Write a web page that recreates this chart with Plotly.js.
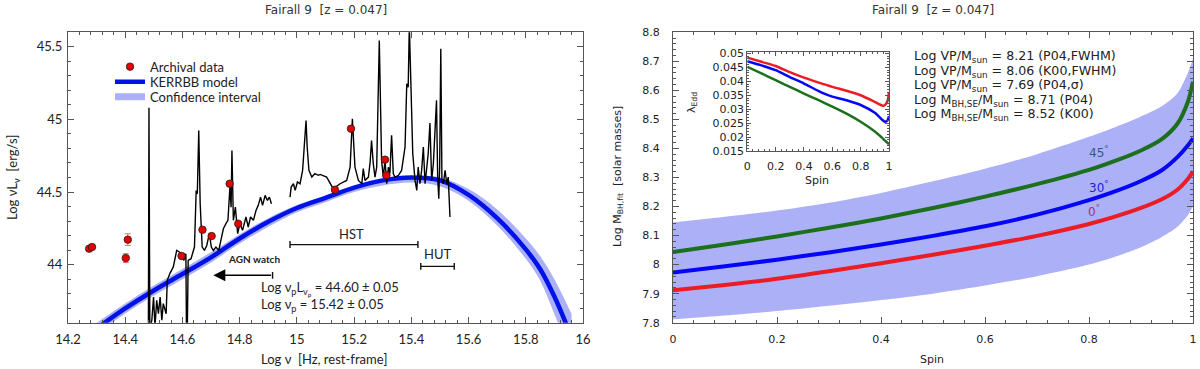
<!DOCTYPE html>
<html>
<head>
<meta charset="utf-8">
<script src="https://cdn.plot.ly/plotly-3.0.1.min.js"></script>
<style>
  html, body { margin: 0; padding: 0; background: #fff; }
  #chart { width: 1200px; height: 369px; }
</style>
</head>
<body>
<div id="chart"></div>
<script>
// ---------- left panel: SED ----------
const specX = [
  14.481, 14.483, 14.486, 14.493, 14.499, 14.504, 14.510, 14.516, 14.522, 14.528,
  14.533, 14.543, 14.547, 14.556, 14.568, 14.580, 14.589, 14.597, 14.605, 14.612,
  14.614, 14.617, 14.620, 14.630, 14.642, 14.648, 14.652, 14.657, 14.662, 14.669,
  14.677, 14.685, 14.694, 14.701, 14.708, 14.717, 14.727, 14.735, 14.743, 14.752,
  14.759, 14.766, 14.770, 14.773, 14.778, 14.785, 14.793, 14.801, 14.810, 14.822,
  14.830, 14.838, 14.848, 14.857, 14.865, 14.873, 14.880, 14.889, 14.897, 14.904,
  14.911, null,
  14.976, 14.980, 14.988, 14.994, 15.002, 15.011, 15.020, 15.026, 15.032, 15.036,
  15.042, 15.052, 15.063, 15.075, 15.081, 15.104, 15.127, 15.151, 15.162, 15.174,
  15.186, 15.194, 15.203, 15.215, 15.227, 15.232, 15.238, 15.250, 15.256, 15.261,
  15.267, 15.273, 15.279, 15.288, 15.296, 15.302, 15.308, 15.314, 15.320, 15.325,
  15.331, 15.337, 15.343, 15.355, 15.366, 15.378, 15.384, 15.389, 15.393, 15.398,
  15.405, 15.413, 15.419, 15.424, 15.430, 15.436, 15.442, 15.448, 15.454, 15.459,
  15.465, 15.471, 15.477, 15.488, 15.492, 15.496, 15.499, 15.503, 15.507, 15.512,
  15.518, 15.524, 15.529, 15.535
];
const specY = [
  43.55, 45.08, 43.55, 43.617, 43.777, 43.571, 43.754, 43.662, 43.777, 43.617,
  43.731, 43.662, 43.892, 43.938, 43.984, 44.098, 44.087, 44.075, 44.029, 44.075,
  43.55, 43.55, 44.029, 44.041, 44.121, 44.511, 44.488, 44.924, 44.419, 44.121,
  44.098, 44.132, 44.213, 44.121, 44.098, 44.121, 44.098, 44.167, 44.247, 44.282,
  44.305, 44.534, 44.396, 44.786, 44.305, 44.396, 44.213, 44.282, 44.236, 44.328,
  44.259, 44.328, 44.305, 44.373, 44.408, 44.465, 44.408, 44.477, 44.442, 44.465,
  44.419, null,
  44.465, 44.534, 44.557, 44.511, 44.569, 44.557, 44.649, 44.810, 44.993, 44.810,
  44.649, 44.603, 44.626, 44.615, 44.621, 44.603, 44.523, 44.557, 44.569, 44.580,
  44.672, 45.005, 44.672, 44.580, 44.557, 44.661, 44.580, 44.603, 44.706, 44.855,
  44.695, 44.603, 44.672, 45.544, 44.718, 44.603, 44.718, 44.557, 44.672, 44.626,
  44.890, 44.626, 44.603, 44.615, 44.649, 44.810, 45.246, 45.222, 45.65, 45.222,
  44.764, 44.580, 44.511, 44.672, 44.557, 44.649, 44.810, 44.557, 44.672, 44.764,
  44.975, 44.580, 44.695, 45.131, 44.603, 44.454, 44.672, 45.487, 44.580, 44.557,
  44.649, 44.557, 44.603, 44.328
];
const archX = [14.274, 14.284, 14.409, 14.402, 14.597, 14.670, 14.702, 14.765, 14.795, 15.133, 15.189, 15.308, 15.313];
const archY = [44.110, 44.121, 44.172, 44.045, 44.060, 44.240, 44.197, 44.557, 44.282, 44.516, 44.936, 44.723, 44.615];
const archErr = [0.012, 0.012, 0.04, 0.03, 0.01, 0.01, 0.01, 0.01, 0.01, 0.01, 0.01, 0.01, 0.01];

const modelX  = [14.30, 14.4, 14.5, 14.6, 14.7, 14.8, 14.9, 15.0, 15.1, 15.2, 15.3, 15.4, 15.5, 15.6, 15.7, 15.8, 15.85, 15.9, 15.96];
const modelY  = [43.56, 43.698, 43.822, 43.935, 44.05, 44.18, 44.295, 44.39, 44.46, 44.53, 44.58, 44.60, 44.58, 44.48, 44.32, 44.105, 43.97, 43.78, 43.50];
const modelHi = [43.60, 43.733, 43.857, 43.97, 44.085, 44.21, 44.32, 44.41, 44.475, 44.54, 44.59, 44.61, 44.60, 44.52, 44.38, 44.18, 44.06, 43.90, 43.66];
const modelLo = [43.52, 43.663, 43.787, 43.90, 44.015, 44.145, 44.26, 44.36, 44.43, 44.50, 44.545, 44.565, 44.54, 44.44, 44.27, 44.04, 43.89, 43.66, 43.36];

const hstRange = [14.976, 15.423];
const hstLevel = 44.138;
const hutRange = [15.433, 15.550];
const hutLevel = 43.988;
const agnWatch = [14.915, 14.708];
const agnLevel = 43.926;

// ---------- right panel: mass vs spin ----------
const spin    = [0, 0.1, 0.2, 0.3, 0.4, 0.5, 0.6, 0.7, 0.8, 0.85, 0.9, 0.94, 0.97, 0.99, 1.0];
const mass0   = [7.912, 7.930, 7.951, 7.977, 8.005, 8.034, 8.065, 8.099, 8.140, 8.165, 8.195, 8.225, 8.258, 8.295, 8.320];
const mass30  = [7.973, 7.994, 8.017, 8.042, 8.069, 8.099, 8.132, 8.172, 8.222, 8.252, 8.288, 8.325, 8.370, 8.410, 8.435];
const mass45  = [8.043, 8.069, 8.097, 8.127, 8.159, 8.195, 8.234, 8.277, 8.326, 8.357, 8.393, 8.432, 8.485, 8.560, 8.630];
const massHi  = [8.145, 8.165, 8.186, 8.213, 8.247, 8.287, 8.330, 8.380, 8.440, 8.473, 8.510, 8.545, 8.590, 8.660, 8.710];
const massLo  = [7.812, 7.825, 7.840, 7.858, 7.878, 7.900, 7.928, 7.960, 8.000, 8.027, 8.060, 8.095, 8.130, 8.170, 8.200];

// inset: Eddington ratio
const insetSpin = [0, 0.1, 0.2, 0.3, 0.4, 0.5, 0.6, 0.7, 0.8, 0.9, 0.95, 0.97, 0.99, 1.0];
const edd0  = [0.0485, 0.0470, 0.0455, 0.0433, 0.0413, 0.0396, 0.0380, 0.0366, 0.0350, 0.0326, 0.0313, 0.0314, 0.0330, 0.0362];
const edd30 = [0.0472, 0.0457, 0.0440, 0.0415, 0.0392, 0.0366, 0.0345, 0.0332, 0.0315, 0.0287, 0.0263, 0.0255, 0.0260, 0.0275];
const edd45 = [0.0452, 0.0428, 0.0404, 0.0380, 0.0356, 0.0333, 0.0309, 0.0284, 0.0255, 0.0220, 0.0198, 0.0188, 0.0179, 0.0174];

const infoLines = [
  'Log VP/M<sub>sun</sub> = 8.21 (P04,FWHM)',
  'Log VP/M<sub>sun</sub> = 8.06 (K00,FWHM)',
  'Log VP/M<sub>sun</sub> = 7.69 (P04,σ)',
  'Log M<sub>BH,SE</sub>/M<sub>sun</sub> = 8.71 (P04)',
  'Log M<sub>BH,SE</sub>/M<sub>sun</sub> = 8.52 (K00)'
];
const infoY = [8.715, 8.665, 8.616, 8.566, 8.516];

const RED = 'rgb(236,28,36)', BLUE = 'rgb(5,5,250)', GREEN = 'rgb(28,112,28)';
const BAND = 'rgb(172,176,246)';
const LEFTFONT = 'Lato, "Open Sans", sans-serif';
const RIGHTFONT = '"DejaVu Sans", sans-serif';

function axis(extra) {
  return Object.assign({
    showgrid: false, zeroline: false, showline: true, mirror: 'allticks',
    linecolor: '#555', linewidth: 1, ticks: 'inside', ticklen: 6, tickcolor: '#555',
    fixedrange: true
  }, extra);
}

const traces = [
  // left
  { x: modelX, y: modelLo, xaxis: 'x', yaxis: 'y', mode: 'lines', line: { width: 0, color: BAND, shape: 'spline' },
    showlegend: false, hoverinfo: 'skip' },
  { x: modelX, y: modelHi, xaxis: 'x', yaxis: 'y', mode: 'lines', line: { width: 0, color: BAND, shape: 'spline' },
    fill: 'tonexty', fillcolor: BAND, showlegend: false, hoverinfo: 'skip' },
  { x: modelX, y: modelY, xaxis: 'x', yaxis: 'y', mode: 'lines', line: { width: 4.5, color: 'rgb(0,18,232)', shape: 'spline' },
    name: 'KERRBB model', legend: 'legend2' },
  { x: [null], y: [null], xaxis: 'x', yaxis: 'y', mode: 'lines', line: { width: 7, color: BAND },
    name: 'Confidence interval', legend: 'legend3' },
  { x: specX, y: specY, xaxis: 'x', yaxis: 'y', mode: 'lines', line: { width: 1.4, color: '#000' },
    connectgaps: false, showlegend: false },
  { x: archX, y: archY, xaxis: 'x', yaxis: 'y', mode: 'markers', name: 'Archival data', legend: 'legend',
    marker: { size: 7.5, color: 'rgb(230,0,0)', line: { color: '#222', width: 0.8 } },
    error_y: { type: 'data', array: archErr, color: 'rgb(240,110,110)', thickness: 1, width: 3 } },
  // right
  { x: spin, y: massLo, xaxis: 'x2', yaxis: 'y2', mode: 'lines', line: { width: 0, color: BAND, shape: 'spline', smoothing: 0.8 },
    showlegend: false, hoverinfo: 'skip' },
  { x: spin, y: massHi, xaxis: 'x2', yaxis: 'y2', mode: 'lines', line: { width: 0, color: BAND, shape: 'spline', smoothing: 0.8 },
    fill: 'tonexty', fillcolor: BAND, showlegend: false, hoverinfo: 'skip' },
  { x: spin, y: mass0, xaxis: 'x2', yaxis: 'y2', mode: 'lines', line: { width: 4, color: RED, shape: 'spline', smoothing: 0.8 }, showlegend: false },
  { x: spin, y: mass30, xaxis: 'x2', yaxis: 'y2', mode: 'lines', line: { width: 4, color: BLUE, shape: 'spline', smoothing: 0.8 }, showlegend: false },
  { x: spin, y: mass45, xaxis: 'x2', yaxis: 'y2', mode: 'lines', line: { width: 4, color: GREEN, shape: 'spline', smoothing: 0.8 }, showlegend: false },
  // inset
  { x: insetSpin, y: edd0, xaxis: 'x3', yaxis: 'y3', mode: 'lines', line: { width: 2.5, color: RED, shape: 'spline', smoothing: 0.6 }, showlegend: false },
  { x: insetSpin, y: edd30, xaxis: 'x3', yaxis: 'y3', mode: 'lines', line: { width: 2.5, color: BLUE, shape: 'spline', smoothing: 0.6 }, showlegend: false },
  { x: insetSpin, y: edd45, xaxis: 'x3', yaxis: 'y3', mode: 'lines', line: { width: 2.5, color: GREEN, shape: 'spline', smoothing: 0.6 }, showlegend: false }
];

// bars with end caps for HST / HUT / AGN watch
const capH = 0.024;
function capBar(range, level) {
  const s = { type: 'line', xref: 'x', yref: 'y', line: { color: '#111', width: 1.4 } };
  return [
    Object.assign({}, s, { x0: range[0], x1: range[1], y0: level, y1: level }),
    Object.assign({}, s, { x0: range[0], x1: range[0], y0: level - capH, y1: level + capH }),
    Object.assign({}, s, { x0: range[1], x1: range[1], y0: level - capH, y1: level + capH })
  ];
}
const shapes = [].concat(
  capBar(hstRange, hstLevel),
  capBar(hutRange, hutLevel),
  [{ type: 'line', xref: 'x', yref: 'y', x0: agnWatch[0], x1: agnWatch[0], y0: agnLevel - capH, y1: agnLevel + capH,
     line: { color: '#111', width: 1.4 } }]
);

const lf = (size, extra) => Object.assign({ family: LEFTFONT, size: size, color: '#222' }, extra || {});
const rf = (size, extra) => Object.assign({ family: RIGHTFONT, size: size, color: '#222' }, extra || {});

// paper-positioned text, given in pixels
function pText(px, py, text, font, angle) {
  const a = { xref: 'paper', yref: 'paper', x: px / 1200, y: 1 - py / 369, xanchor: 'center', yanchor: 'middle',
    text: text, showarrow: false, font: font };
  if (angle) a.textangle = angle;
  return a;
}

const annotations = [
  pText(326, 10, 'Fairall 9&nbsp; [z = 0.047]', rf(12, { color: '#333' })),
  pText(933, 10, 'Fairall 9&nbsp; [z = 0.047]', rf(12, { color: '#333' })),
  pText(324, 359, 'Log ν&nbsp; [Hz, rest-frame]', lf(13)),
  pText(13, 177, 'Log νL<sub>ν</sub>&nbsp; [erg/s]', lf(13), -90),
  pText(932, 359, 'Spin', rf(11)),
  pText(618, 177, 'Log M<sub>BH,fit</sub>&nbsp; [solar masses]', rf(11), -90),
  pText(817, 180, 'Spin', rf(11)),
  pText(692, 103, 'λ<sub>Edd</sub>', rf(11), -90),
  // left panel labels
  { xref: 'x', yref: 'y', x: 15.19, y: 44.21, text: 'HST', showarrow: false, font: lf(13) },
  { xref: 'x', yref: 'y', x: 15.491, y: 44.076, text: 'HUT', showarrow: false, font: lf(13) },
  { xref: 'x', yref: 'y', x: 14.851, y: 44.036, text: '<b>AGN watch</b>', showarrow: false, font: lf(10) },
  { xref: 'x', yref: 'y', axref: 'x', ayref: 'y', x: agnWatch[1], y: agnLevel, ax: agnWatch[0], ay: agnLevel,
    text: '', showarrow: true, arrowhead: 2, arrowsize: 1.6, arrowwidth: 1.5, arrowcolor: '#000', standoff: 0, startstandoff: 0 },
  { xref: 'x', yref: 'y', x: 14.869, y: 43.835, xanchor: 'left', text: 'Log ν<sub>p</sub>L<sub>ν<sub>p</sub></sub> = 44.60 ± 0.05', showarrow: false, font: lf(13) },
  { xref: 'x', yref: 'y', x: 14.869, y: 43.72, xanchor: 'left', text: 'Log ν<sub>p</sub> = 15.42 ± 0.05', showarrow: false, font: lf(13) },
  // right panel angle labels
  { xref: 'x2', yref: 'y2', x: 0.818, y: 8.389, text: '45<sup>°</sup>', showarrow: false, font: rf(12, { color: 'rgb(45,90,140)' }) },
  { xref: 'x2', yref: 'y2', x: 0.818, y: 8.268, text: '30<sup>°</sup>', showarrow: false, font: rf(12, { color: 'rgb(30,30,210)' }) },
  { xref: 'x2', yref: 'y2', x: 0.81, y: 8.186, text: '0<sup>°</sup>', showarrow: false, font: rf(12, { color: 'rgb(170,50,110)' }) }
];
infoLines.forEach((t, i) => annotations.push({
  xref: 'x2', yref: 'y2', x: 0.459, y: infoY[i], xanchor: 'left', text: t, showarrow: false, font: rf(12.6)
}));

const legendBase = { xanchor: 'left', yanchor: 'middle', bgcolor: 'rgba(0,0,0,0)', font: lf(13), x: 110 / 1200 };

const layout = {
  width: 1200, height: 369,
  margin: { l: 0, r: 0, t: 0, b: 0 },
  paper_bgcolor: '#fff', plot_bgcolor: '#fff',
  showlegend: true,
  legend: Object.assign({}, legendBase, { y: 1 - 66.7 / 369 }),
  legend2: Object.assign({}, legendBase, { y: 1 - 81.7 / 369 }),
  legend3: Object.assign({}, legendBase, { y: 1 - 96.7 / 369 }),
  xaxis: axis({ domain: [68 / 1200, 583 / 1200], anchor: 'y', range: [14.2, 16], tick0: 14.2, dtick: 0.2, ticklabelstandoff: 5,
    minor: { ticks: 'inside', ticklen: 3, tickcolor: '#555', dtick: 0.04 }, tickfont: lf(13) }),
  yaxis: axis({ domain: [1 - 322.7 / 369, 1 - 32.3 / 369], anchor: 'x', range: [43.6, 45.6], tick0: 44, dtick: 0.5, ticklabelstandoff: 2,
    minor: { ticks: 'inside', ticklen: 3, tickcolor: '#555', dtick: 0.1 }, tickfont: lf(13) }),
  xaxis2: axis({ domain: [673 / 1200, 1193 / 1200], anchor: 'y2', range: [0, 1], tick0: 0, dtick: 0.2, ticklabelstandoff: 6,
    minor: { ticks: 'inside', ticklen: 3, tickcolor: '#555', dtick: 0.04 }, tickfont: rf(11) }),
  yaxis2: axis({ domain: [1 - 322.7 / 369, 1 - 32.3 / 369], anchor: 'x2', range: [7.8, 8.8], tick0: 7.8, dtick: 0.1, ticklabelstandoff: 10,
    minor: { ticks: 'inside', ticklen: 3, tickcolor: '#555', dtick: 0.02 }, tickfont: rf(11) }),
  xaxis3: axis({ domain: [747.3 / 1200, 889 / 1200], anchor: 'y3', range: [0, 1], tick0: 0, dtick: 0.2, ticklen: 4, ticklabelstandoff: 5,
    minor: { ticks: 'inside', ticklen: 2, tickcolor: '#555', dtick: 0.04 }, tickfont: rf(11) }),
  yaxis3: axis({ domain: [1 - 151 / 369, 1 - 52.3 / 369], anchor: 'x3', range: [0.015, 0.0504], tick0: 0.015, dtick: 0.005, ticklen: 4,
    minor: { ticks: 'inside', ticklen: 2, tickcolor: '#555', dtick: 0.001 }, tickfont: rf(11) }),
  shapes: shapes,
  annotations: annotations
};

Plotly.newPlot('chart', traces, layout, { staticPlot: true, displayModeBar: false });
</script>
</body>
</html>
